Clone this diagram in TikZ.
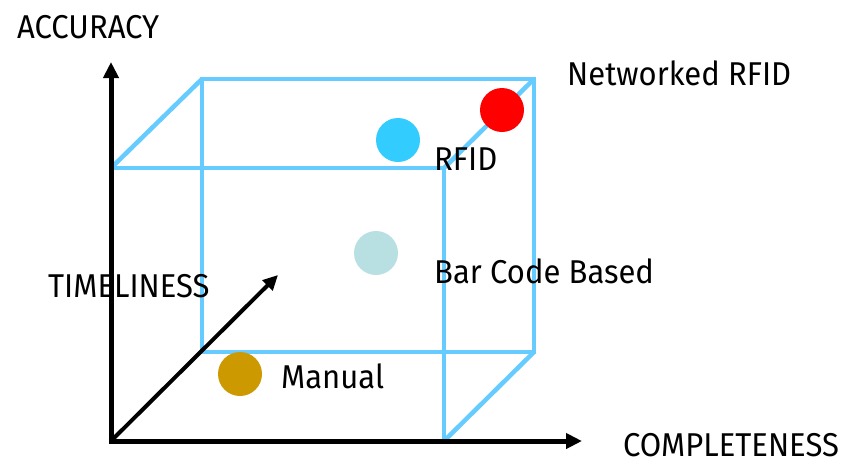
\documentclass[tikz,border=0pt]{standalone}
\usepackage{fontspec}
\setmainfont[FakeStretch=0.94]{Fira Sans}
\usetikzlibrary{arrows.meta}
\definecolor{cubeblue}{HTML}{66CCFF}
\definecolor{rfidblue}{HTML}{33CCFF}
\definecolor{barteal}{HTML}{B8E0E3}
\definecolor{manualgold}{HTML}{CC9900}
\tikzset{
	cubeline/.style={line width=4.5pt, color=cubeblue},
	axisline/.style={line width=5pt, -{Triangle[length=16pt,width=15pt]}},
	dot/.style={circle, inner sep=0pt, minimum size=44pt},
	lbl/.style={anchor=base west, inner sep=0pt, font=\fontsize{33}{36}\selectfont}
}

\begin{document}
\begin{tikzpicture}[x=1pt, y=-1pt]
			%%%%% START %%%%%
			
			\useasboundingbox (0, 0) rectangle (859, 464);
			
			\coordinate (O) at (111, 441);
			\coordinate (ftl) at (111, 168);
			\coordinate (ftr) at (444, 168);
			\coordinate (fbr) at (444, 441);
			\coordinate (btl) at (202, 79);
			\coordinate (btr) at (534, 79);
			\coordinate (bbr) at (534, 352);
			\coordinate (bbl) at (202, 352);
			
			\draw[cubeline] (btl) rectangle (bbr);
			\draw[cubeline] (ftl) -- (ftr) -- (fbr);
			\draw[cubeline] (ftl) -- (btl);
			\draw[cubeline] (ftr) -- (btr);
			\draw[cubeline] (fbr) -- (bbr);
			\draw[cubeline] (O) -- (ftl);
			
			\coordinate (ytip) at (111, 62);
			\coordinate (xtip) at (582, 441);
			\coordinate (ztip) at (278, 275);
			\draw[axisline] (O) -- (ytip);
			\draw[axisline] ([xshift=-2.5pt]O) -- (xtip);
			\draw[line width=4pt, -{Triangle[length=15pt,width=14pt]}] (O) -- (ztip);
			
			\node[dot, fill=red] (netdot) at (502, 110) {};
			\node[dot, fill=rfidblue] (rfiddot) at (398, 140) {};
			\node[dot, fill=barteal] (bardot) at (376, 253) {};
			\node[dot, fill=manualgold] (mandot) at (240, 374) {};
			
			\node[lbl] (accuracy) at (17, 38) {ACCURACY};
			\node[lbl] (networked) at (567, 85) {Networked RFID};
			\node[lbl] (rfid) at (434, 170) {RFID};
			\node[lbl] (barcode) at (434, 283) {Bar Code Based};
			\node[lbl] (timeliness) at (48, 297) {TIMELINESS};
			\node[lbl] (manual) at (281, 388) {Manual};
			\node[lbl] (completeness) at (623, 456) {COMPLETENESS};
			
			%%%%% END %%%%%
\end{tikzpicture}
\end{document}
